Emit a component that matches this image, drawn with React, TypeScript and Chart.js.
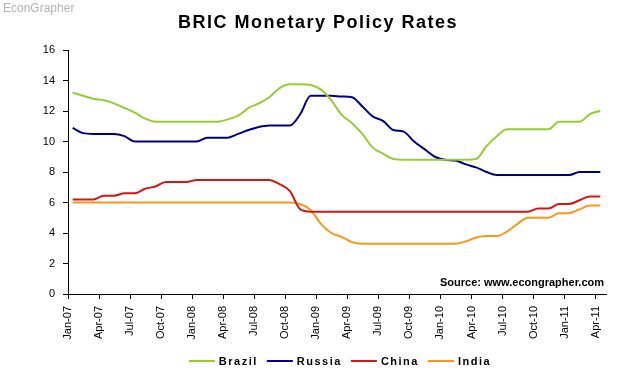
import React, { useEffect, useRef } from "react";
import { Chart, registerables } from "chart.js";

Chart.register(...registerables);

const titleText = "BRIC Monetary Policy Rates";
const watermarkText = "EconGrapher";
const sourceText = "Source: www.econgrapher.com";

// x-axis tick labels, one every three months (Jan-07 .. Apr-11)
const tickLabels = [
  "Jan-07", "Apr-07", "Jul-07", "Oct-07",
  "Jan-08", "Apr-08", "Jul-08", "Oct-08",
  "Jan-09", "Apr-09", "Jul-09", "Oct-09",
  "Jan-10", "Apr-10", "Jul-10", "Oct-10",
  "Jan-11", "Apr-11",
];

const yTicks = [0, 2, 4, 6, 8, 10, 12, 14, 16];

// Monthly observations Jan-07 .. Apr-11 (52 months), dated mid-month
const brazil = [
  13.2, 13.0, 12.8, 12.7, 12.5, 12.2, 11.9, 11.5, 11.3, 11.3,
  11.3, 11.3, 11.3, 11.3, 11.3, 11.45, 11.7, 12.2, 12.5, 12.9,
  13.5, 13.75, 13.75, 13.7, 13.4, 12.7, 11.75, 11.2, 10.5, 9.6,
  9.2, 8.85, 8.8, 8.8, 8.8, 8.8, 8.8, 8.8, 8.8, 8.85,
  9.7, 10.35, 10.8, 10.8, 10.8, 10.8, 10.8, 11.3, 11.3, 11.3,
  11.8, 12.0,
];

const russia = [
  10.9, 10.55, 10.5, 10.5, 10.5, 10.35, 10.0, 10.0, 10.0, 10.0,
  10.0, 10.0, 10.0, 10.25, 10.25, 10.25, 10.5, 10.75, 10.95, 11.05,
  11.05, 11.05, 11.8, 13.0, 13.0, 13.0, 12.95, 12.9, 12.3, 11.65,
  11.35, 10.75, 10.65, 10.0, 9.5, 9.0, 8.8, 8.75, 8.5, 8.3,
  8.0, 7.8, 7.8, 7.8, 7.8, 7.8, 7.8, 7.8, 7.8, 8.0,
  8.0, 8.0,
];

const china = [
  6.2, 6.2, 6.2, 6.45, 6.45, 6.6, 6.6, 6.9, 7.05, 7.35,
  7.35, 7.35, 7.48, 7.48, 7.48, 7.48, 7.48, 7.48, 7.48, 7.47,
  7.2, 6.75, 5.55, 5.4, 5.4, 5.4, 5.4, 5.4, 5.4, 5.4,
  5.4, 5.4, 5.4, 5.4, 5.4, 5.4, 5.4, 5.4, 5.4, 5.4,
  5.4, 5.4, 5.4, 5.4, 5.4, 5.6, 5.6, 5.9, 5.9, 6.15,
  6.4, 6.4,
];

const india = [
  6.0, 6.0, 6.0, 6.0, 6.0, 6.0, 6.0, 6.0, 6.0, 6.0,
  6.0, 6.0, 6.0, 6.0, 6.0, 6.0, 6.0, 6.0, 6.0, 6.0,
  6.0, 6.0, 5.9, 5.5, 4.6, 4.0, 3.75, 3.4, 3.3, 3.3,
  3.3, 3.3, 3.3, 3.3, 3.3, 3.3, 3.3, 3.3, 3.45, 3.7,
  3.8, 3.8, 4.1, 4.6, 5.0, 5.0, 5.0, 5.3, 5.3, 5.55,
  5.8, 5.8,
];

const seriesNames = ["Brazil", "Russia", "China", "India"];
const seriesColors = ["#99CC33", "#000080", "#D01818", "#F7981D"];

const MID_MONTH = 0.45;
const FONT = "'Liberation Sans', Arial, sans-serif";

const toPoints = (arr: number[]) => arr.map((v, i) => ({ x: i + MID_MONTH, y: v }));

const decorPlugin = {
  id: "decor",
  afterDraw(chart: any) {
    const ctx: CanvasRenderingContext2D = chart.ctx;
    ctx.save();
    // watermark
    ctx.font = `12px ${FONT}`;
    ctx.fillStyle = "#b4b4b4";
    ctx.textAlign = "left";
    ctx.textBaseline = "alphabetic";
    ctx.fillText(watermarkText, 3, 12);

    // title
    (ctx as any).letterSpacing = "1.5px";
    ctx.font = `bold 18px ${FONT}`;
    ctx.fillStyle = "#000";
    ctx.textAlign = "center";
    ctx.fillText(titleText, 318, 28);

    // source
    (ctx as any).letterSpacing = "0px";
    ctx.font = `bold 11px ${FONT}`;
    ctx.textAlign = "right";
    ctx.fillText(sourceText, 604, 286);

    // legend
    (ctx as any).letterSpacing = "1.5px";
    ctx.font = `bold 11px ${FONT}`;
    ctx.textAlign = "left";
    ctx.textBaseline = "middle";
    const lineLen = 26;
    const gapText = 4;
    const gapItem = 9;
    const widths = seriesNames.map((n) => ctx.measureText(n).width);
    const total =
      widths.reduce((a, w) => a + lineLen + gapText + w, 0) + gapItem * (seriesNames.length - 1);
    let x = 340 - total / 2;
    const y = 361;
    seriesNames.forEach((n, i) => {
      ctx.strokeStyle = seriesColors[i];
      ctx.lineWidth = 2;
      ctx.beginPath();
      ctx.moveTo(x, y);
      ctx.lineTo(x + lineLen, y);
      ctx.stroke();
      ctx.fillStyle = "#000";
      ctx.fillText(n, x + lineLen + gapText, y + 1);
      x += lineLen + gapText + widths[i] + gapItem;
    });
    ctx.restore();
  },
};

export default function App() {
  const ref = useRef<HTMLCanvasElement | null>(null);
  useEffect(() => {
    if (!ref.current) return;
    const series = [brazil, russia, china, india];
    const chart = new Chart(ref.current, {
      type: "line",
      data: {
        datasets: series.map((arr, i) => ({
          label: seriesNames[i],
          data: toPoints(arr),
          borderColor: seriesColors[i],
          backgroundColor: seriesColors[i],
          borderWidth: 2,
          pointRadius: 0,
          fill: false,
          cubicInterpolationMode: "monotone" as const,
        })),
      },
      options: {
        responsive: false,
        animation: false,
        devicePixelRatio: 1,
        layout: { padding: { top: 50, right: 25, left: 0, bottom: 0 } },
        plugins: {
          legend: { display: false },
          title: { display: false },
          tooltip: { enabled: false },
        },
        scales: {
          x: {
            type: "linear",
            min: 0,
            max: 52,
            afterFit: (s: any) => {
              s.height = 83;
            },
            grid: {
              drawOnChartArea: false,
              drawTicks: true,
              tickLength: 5,
              color: "#000",
            },
            border: { color: "#000", width: 1 },
            ticks: {
              stepSize: 3,
              includeBounds: false,
              autoSkip: false,
              maxRotation: 90,
              minRotation: 90,
              padding: 7,
              color: "#000",
              font: { family: FONT, size: 11 },
              callback: (v: any) => tickLabels[Math.round(Number(v) / 3)] ?? "",
            },
          },
          y: {
            min: yTicks[0],
            max: yTicks[yTicks.length - 1],
            afterFit: (s: any) => {
              s.width = 68;
            },
            grid: {
              drawOnChartArea: false,
              drawTicks: true,
              tickLength: 5,
              color: "#000",
            },
            border: { color: "#000", width: 1 },
            ticks: {
              stepSize: 2,
              padding: 8,
              color: "#000",
              font: { family: FONT, size: 11 },
            },
          },
        },
      },
      plugins: [decorPlugin],
    } as any);
    return () => chart.destroy();
  }, []);
  return (
    <div style={{ position: "fixed", left: 0, top: 0, width: 631, height: 377, background: "#fff" }}>
      <canvas ref={ref} width={631} height={377} style={{ display: "block" }} />
    </div>
  );
}
